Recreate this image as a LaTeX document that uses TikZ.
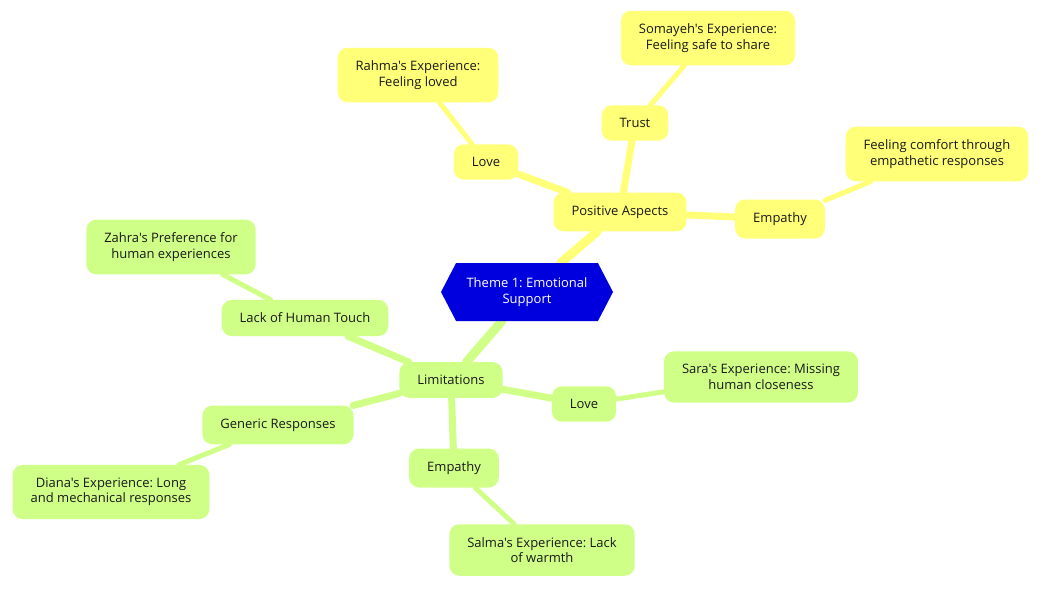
\documentclass[tikz,border=0pt]{standalone}
\usepackage{fontspec}
\setmainfont{Open Sans}[Ligatures=TeXOff]
\frenchspacing
\usetikzlibrary{shapes.symbols,backgrounds}
\definecolor{posyellow}{RGB}{255,255,120}
\definecolor{limgreen}{RGB}{208,255,136}
\definecolor{rootblue}{RGB}{0,0,222}
\tikzset{
  topic/.style={rounded corners=10pt, inner xsep=18pt, inner ysep=13pt, align=center,
    font=\fontsize{13}{15.5}\selectfont, text=black!90},
  posnode/.style={topic, fill=posyellow},
  limnode/.style={topic, fill=limgreen},
  rootnode/.style={signal, signal to=west and east, signal pointer angle=125, fill=rootblue,
    text=white, align=center, minimum width=172pt, minimum height=58pt, inner sep=2pt,
    font=\fontsize{13}{15.5}\selectfont},
  branch/.style={line width=9pt, line cap=round},
  twig/.style={line width=7pt, line cap=round},
  leaf/.style={line width=5pt, line cap=round}
}
\begin{document}
\begin{tikzpicture}[x=1pt,y=-1pt]
\useasboundingbox (0,0) rectangle (1041,589);
\node[rootnode] (root) at (527,292) {Theme 1: Emotional\\Support};
% positive aspects
\node[posnode] (pos) at (620,212) {Positive Aspects};
\node[posnode] (poslove) at (486,162) {Love};
\node[posnode] (rahma) at (418,75) {Rahma's Experience:\\Feeling loved};
\node[posnode] (trust) at (635,123) {Trust};
\node[posnode] (somayeh) at (708,38) {Somayeh's Experience:\\Feeling safe to share};
\node[posnode] (posemp) at (780,219) {Empathy};
\node[posnode] (comfort) at (937,154) {Feeling comfort through\\empathetic responses};
% limitations
\node[limnode] (lim) at (451,380) {Limitations};
\node[limnode] (touch) at (305,318) {Lack of Human Touch};
\node[limnode] (zahra) at (171,247) {Zahra's Preference for\\human experiences};
\node[limnode] (generic) at (278,425) {Generic Responses};
\node[limnode] (diana) at (111,492) {Diana's Experience: Long\\and mechanical responses};
\node[limnode] (limemp) at (454,468) {Empathy};
\node[limnode] (salma) at (542,550) {Salma's Experience: Lack\\of warmth};
\node[limnode] (limlove) at (584,404) {Love};
\node[limnode] (sara) at (761,377) {Sara's Experience: Missing\\human closeness};
\begin{scope}[on background layer]
\path[draw=posyellow]
(root) edge[branch] (pos)
(pos) edge[twig] (poslove)
edge[twig] (trust)
edge[twig] (posemp)
(poslove) edge[leaf] (rahma)
(trust) edge[leaf] (somayeh)
(posemp) edge[leaf] (comfort);
\path[draw=limgreen]
(root) edge[branch] (lim)
(lim) edge[twig] (touch)
edge[twig] (generic)
edge[twig] (limemp)
edge[twig] (limlove)
(touch) edge[leaf] (zahra)
(generic) edge[leaf] (diana)
(limemp) edge[leaf] (salma)
(limlove) edge[leaf] (sara);
\end{scope}
\end{tikzpicture}
\end{document}
